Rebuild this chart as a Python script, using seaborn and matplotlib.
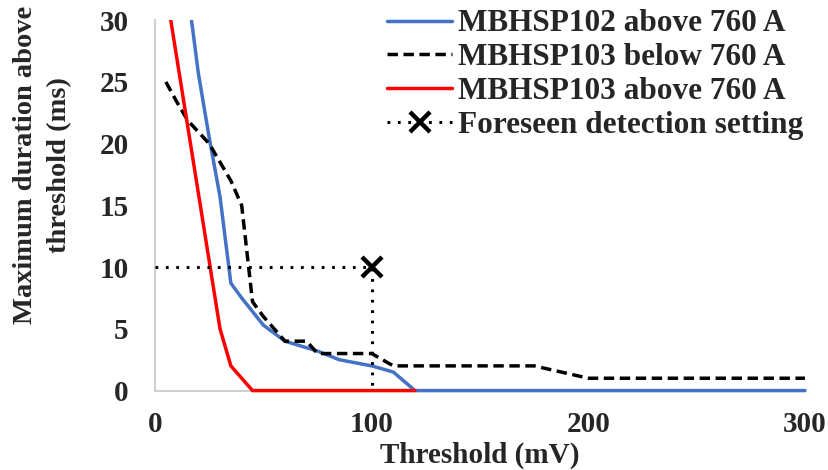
import numpy as np
import pandas as pd
import matplotlib
matplotlib.use("Agg")
import matplotlib.pyplot as plt
from matplotlib.lines import Line2D
from matplotlib.transforms import Bbox, TransformedBbox
import seaborn as sns

# Threshold (mV) vs maximum duration above threshold (ms)
mbhsp102_above_x = [15, 20, 25, 30, 35, 40, 45, 50, 60, 75, 85, 100, 110, 120, 300]
mbhsp102_above_y = [32.5, 25.7, 20.5, 15.7, 8.7, 7.5, 6.4, 5.3, 4.0, 3.2, 2.5, 2.0, 1.5, 0.0, 0.0]

mbhsp103_below_x = [5, 10, 15, 25, 35, 40, 45, 50, 60, 70, 75, 100, 110, 175, 200, 300]
mbhsp103_below_y = [25.0, 23.4, 21.9, 20.0, 17.0, 15.0, 7.2, 6.0, 4.0, 4.0, 3.0, 3.0, 2.0, 2.0, 1.0, 1.0]

mbhsp103_above_x = [5, 10, 15, 20, 25, 30, 35, 40, 45, 120]
mbhsp103_above_y = [32.5, 27.0, 21.5, 16.0, 10.5, 5.0, 2.0, 1.0, 0.0, 0.0]

# Foreseen detection setting: 100 mV threshold, 10 ms duration
setting_x = [0, 100, 100]
setting_y = [10, 10, 0]

series_labels = ["MBHSP102 above 760 A", "MBHSP103 below 760 A",
                 "MBHSP103 above 760 A", "Foreseen detection setting"]
x_ticks = [0, 100, 200, 300]
y_ticks = [0, 5, 10, 15, 20, 25, 30]

sns.set_theme(style="white")
plt.rcParams["font.family"] = ["Liberation Serif", "DejaVu Serif"]
plt.rcParams["font.weight"] = "bold"

fig = plt.figure(figsize=(8.29, 4.70), dpi=100)
ax = fig.add_axes([0.187, 0.169, 0.784, 0.788])

blue = "#4472C4"
red = "#FF0000"
lw = 2.5
dash = (0, (3.0, 1.6))
dots = (0, (0.9, 2.5))

df_blue = pd.DataFrame({"x": mbhsp102_above_x, "y": mbhsp102_above_y})
df_black = pd.DataFrame({"x": mbhsp103_below_x, "y": mbhsp103_below_y})
df_red = pd.DataFrame({"x": mbhsp103_above_x, "y": mbhsp103_above_y})

sns.lineplot(data=df_blue, x="x", y="y", ax=ax, color=blue, lw=lw, sort=False, zorder=3)
sns.lineplot(data=df_black, x="x", y="y", ax=ax, color="black", lw=lw,
             linestyle=dash, sort=False, zorder=3)
sns.lineplot(data=df_red, x="x", y="y", ax=ax, color=red, lw=lw, sort=False, zorder=3)
ax.plot(setting_x, setting_y, color="black", lw=2.2, linestyle=dots,
        dash_capstyle="butt", marker="x", markevery=[1], markersize=14,
        markeredgewidth=3.2, zorder=4)

ax.set_xlim(0, 300)
ax.set_ylim(0, 30)

# let the traces sit fully on top of the zero line while still clipping at the top
clip = TransformedBbox(Bbox([[-0.02, -0.05], [1.02, 1.0]]), ax.transAxes)
for line in ax.get_lines():
    line.set_clip_box(clip)

ax.set_xticks(x_ticks)
ax.set_yticks(y_ticks)
ax.tick_params(axis="both", length=0, labelsize=21)
ax.tick_params(axis="x", pad=14.5)
ax.tick_params(axis="y", pad=19)
for lbl in ax.get_xticklabels() + ax.get_yticklabels():
    lbl.set_fontweight("bold")

for side in ["top", "right"]:
    ax.spines[side].set_visible(False)
for side in ["left", "bottom"]:
    ax.spines[side].set_color("#cfcfcf")
    ax.spines[side].set_linewidth(1.5)
    ax.spines[side].set_zorder(1)

ax.set_xlabel("Threshold (mV)", fontsize=21, fontweight="bold", labelpad=2.5)
ax.set_ylabel("Maximum duration above\nthreshold (ms)", fontsize=20.5,
              fontweight="bold", linespacing=1.5)
ax.yaxis.set_label_coords(-0.127, 0.61)

handles = [
    Line2D([], [], color=blue, lw=lw),
    Line2D([], [], color="black", lw=lw, linestyle=dash),
    Line2D([], [], color=red, lw=lw),
    Line2D([], [], color="black", lw=2.2, linestyle=dots, dash_capstyle="butt",
           marker="x", markersize=14, markeredgewidth=3.2),
]
ax.legend(handles, series_labels, loc="upper left", bbox_to_anchor=(0.357, 1.029),
          frameon=False, prop={"weight": "bold", "size": 22.5},
          handlelength=2.08, handletextpad=0.2, labelspacing=0.15, numpoints=1,
          borderaxespad=0, borderpad=0)

fig.savefig("out.png", dpi=100)
